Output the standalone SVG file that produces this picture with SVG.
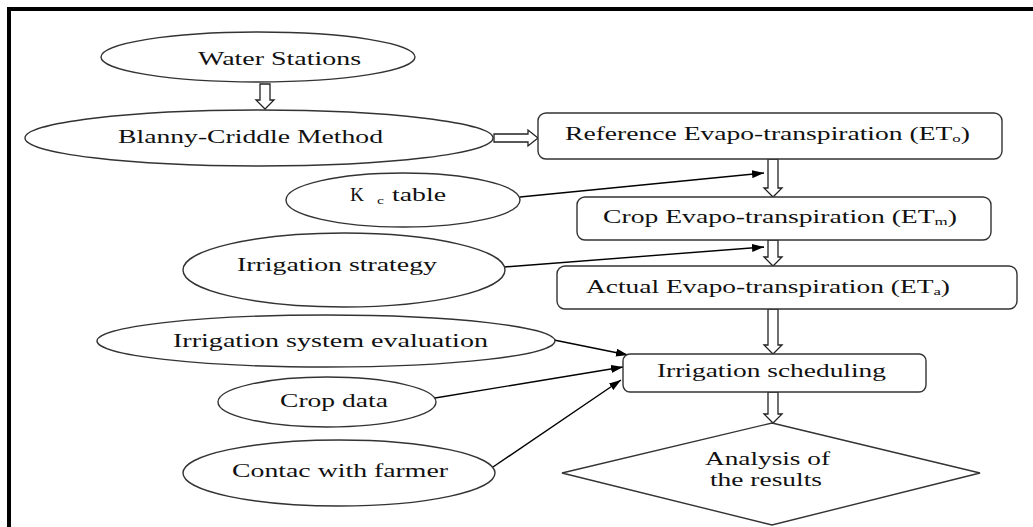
<svg xmlns="http://www.w3.org/2000/svg" width="1033" height="527" viewBox="0 0 1033 527">
<style>
.bg{fill:#fff}
.node{fill:#fff;stroke:#333;stroke-width:1.4}
text{font-family:'Liberation Serif','DejaVu Serif','Times New Roman',serif;font-size:18px;fill:#111}
.sub{font-size:11px}
.hollow{fill:#fff;stroke:#222;stroke-width:1.3;stroke-linejoin:miter}
.thin{fill:none;stroke:#000;stroke-width:1.4}
</style>
<defs>
<marker id="ah" viewBox="0 0 12 8" refX="12" refY="4" markerWidth="12" markerHeight="8" markerUnits="userSpaceOnUse" orient="auto">
<path d="M0,0 L12,4 L0,8 Z" fill="#000"/>
</marker>
</defs>
<rect class="bg" x="0" y="0" width="1033" height="527"/>
<g id="frame">
<line x1="9" y1="9" x2="1033" y2="9" stroke="#000" stroke-width="4"/>
<line x1="9" y1="7" x2="9" y2="527" stroke="#000" stroke-width="4"/>
</g>
<g id="connectors">
<path class="hollow" d="M260,84 V100 H256 L265,109 L274,100 H270 V84 Z"/>
<path class="hollow" d="M494,134 H528 V130 L538,138 L528,146 V142 H494 Z"/>
<path class="hollow" d="M768,159 V188 H764 L773,197 L782,188 H778 V159 Z"/>
<path class="hollow" d="M768,240 V257 H764 L773,266 L782,257 H778 V240 Z"/>
<path class="hollow" d="M768,309 V345 H764 L773,354 L782,345 H778 V309 Z"/>
<path class="hollow" d="M768,392 V414 H764 L773,423 L782,414 H778 V392 Z"/>
<line class="thin" x1="520" y1="197" x2="764" y2="173" marker-end="url(#ah)"/>
<line class="thin" x1="504" y1="267" x2="764" y2="247" marker-end="url(#ah)"/>
<line class="thin" x1="554" y1="340" x2="628" y2="355" marker-end="url(#ah)"/>
<line class="thin" x1="435" y1="398" x2="623" y2="367" marker-end="url(#ah)"/>
<line class="thin" x1="493" y1="467" x2="621" y2="380" marker-end="url(#ah)"/>
</g>
<g id="water-stations">
<ellipse class="node" cx="258" cy="57" rx="157" ry="25"/>
<text x="198" y="65" textLength="163" lengthAdjust="spacingAndGlyphs">Water Stations</text>
</g>
<g id="blanny-criddle">
<ellipse class="node" cx="259" cy="138" rx="234" ry="28"/>
<text x="118" y="143" textLength="265" lengthAdjust="spacingAndGlyphs">Blanny-Criddle Method</text>
</g>
<g id="kc-table">
<ellipse class="node" cx="403" cy="200" rx="117" ry="27"/>
<text x="350" y="201" textLength="14" lengthAdjust="spacingAndGlyphs">K</text>
<text class="sub" x="377" y="204" textLength="7" lengthAdjust="spacingAndGlyphs">c</text>
<text x="392" y="201" textLength="54" lengthAdjust="spacingAndGlyphs">table</text>
</g>
<g id="irrigation-strategy">
<ellipse class="node" cx="344" cy="270" rx="161" ry="37"/>
<text x="237" y="271" textLength="200" lengthAdjust="spacingAndGlyphs">Irrigation strategy</text>
</g>
<g id="irrigation-system-evaluation">
<ellipse class="node" cx="326" cy="341" rx="229" ry="26"/>
<text x="173" y="347" textLength="315" lengthAdjust="spacingAndGlyphs">Irrigation system evaluation</text>
</g>
<g id="crop-data">
<ellipse class="node" cx="327" cy="402" rx="109" ry="25"/>
<text x="280" y="407" textLength="108" lengthAdjust="spacingAndGlyphs">Crop data</text>
</g>
<g id="contac-farmer">
<ellipse class="node" cx="339" cy="473" rx="156" ry="33"/>
<text x="232" y="477" textLength="216" lengthAdjust="spacingAndGlyphs">Contac with farmer</text>
</g>
<g id="reference-et">
<rect class="node" x="538" y="113" width="464" height="46" rx="8"/>
<text x="565" y="140" textLength="405" lengthAdjust="spacingAndGlyphs">Reference Evapo-transpiration (ET<tspan class="sub" dy="2">o</tspan><tspan dy="-2">)</tspan></text>
</g>
<g id="crop-et">
<rect class="node" x="577" y="197" width="414" height="43" rx="8"/>
<text x="603" y="223" textLength="354" lengthAdjust="spacingAndGlyphs">Crop Evapo-transpiration (ET<tspan class="sub" dy="2">m</tspan><tspan dy="-2">)</tspan></text>
</g>
<g id="actual-et">
<rect class="node" x="557" y="266" width="460" height="43" rx="8"/>
<text x="586" y="293" textLength="364" lengthAdjust="spacingAndGlyphs">Actual Evapo-transpiration (ET<tspan class="sub" dy="2">a</tspan><tspan dy="-2">)</tspan></text>
</g>
<g id="irrigation-scheduling">
<rect class="node" x="623" y="354" width="303" height="38" rx="7"/>
<text x="657" y="377" textLength="229" lengthAdjust="spacingAndGlyphs">Irrigation scheduling</text>
</g>
<g id="analysis">
<path class="node" d="M772,423 L980,473 L772,525 L562,473 Z"/>
<text x="705" y="465" textLength="125" lengthAdjust="spacingAndGlyphs">Analysis of</text>
<text x="710" y="486" textLength="112" lengthAdjust="spacingAndGlyphs">the results</text>
</g>
</svg>
